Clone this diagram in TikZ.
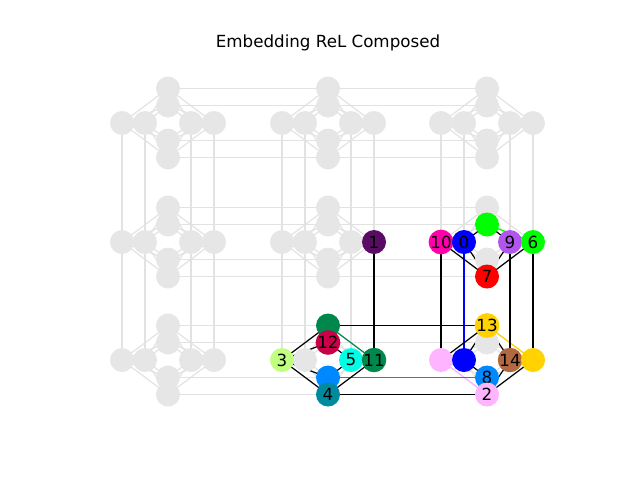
\documentclass[tikz,border=0pt]{standalone}
\usepackage{fontspec}
\setmainfont{DejaVu Sans}
\definecolor{lg}{RGB}{230,230,230}
\definecolor{le}{RGB}{226,226,226}
\definecolor{cA}{RGB}{0,0,255}      % 0
\definecolor{cB}{RGB}{90,12,100}    % 1
\definecolor{cC}{RGB}{255,180,255}  % 2
\definecolor{cD}{RGB}{192,255,128}  % 3
\definecolor{cE}{RGB}{0,138,158}    % 4
\definecolor{cF}{RGB}{0,255,228}    % 5
\definecolor{cG}{RGB}{0,255,0}      % 6
\definecolor{cH}{RGB}{255,0,0}      % 7
\definecolor{cI}{RGB}{0,136,255}    % 8
\definecolor{cJ}{RGB}{176,86,236}   % 9
\definecolor{cK}{RGB}{255,0,170}    % 10
\definecolor{cL}{RGB}{0,136,76}     % 11
\definecolor{cM}{RGB}{204,0,72}     % 12
\definecolor{cN}{RGB}{255,210,0}    % 13
\definecolor{cO}{RGB}{178,104,64}   % 14
\newcommand\markused[1]{\expandafter\def\csname usedv#1\endcsname{}}
\markused{R1-1-1}
\markused{L1-1-2}\markused{L2-1-2}\markused{T2-1-2}\markused{R2-1-2}\markused{R1-1-2}\markused{B1-1-2}
\markused{T1-2-1}\markused{T2-2-1}\markused{L1-2-1}\markused{R2-2-1}\markused{R1-2-1}\markused{B2-2-1}\markused{B1-2-1}
\markused{T1-2-2}\markused{L1-2-2}\markused{L2-2-2}\markused{R2-2-2}\markused{R1-2-2}\markused{B2-2-2}\markused{B1-2-2}
\begin{document}
\begin{tikzpicture}[x=1pt,y=-1pt,
  vtx/.style={circle,minimum size=24pt,inner sep=0pt,font=\fontsize{16.7}{16.7}\selectfont},
  gn/.style={vtx,fill=lg},
  ge/.style={draw=le,line width=1.2pt},
  be/.style={draw=black,line width=1.2pt},
  ce/.style={draw=#1,line width=1.2pt}]
\useasboundingbox (0,0) rectangle (640,480);
\node[font=\fontsize{16.7}{16.7}\selectfont] (title) at (328,43) {Embedding ReL Composed};
% coordinates
\foreach \r/\cy in {0/123,1/242,2/360}{
 \foreach \c/\cx in {0/168,1/328,2/487}{
  \coordinate (T1-\r-\c) at (\cx,\cy-34.5);
  \coordinate (T2-\r-\c) at (\cx,\cy-17.5);
  \coordinate (B2-\r-\c) at (\cx,\cy+17.5);
  \coordinate (B1-\r-\c) at (\cx,\cy+34.5);
  \coordinate (L1-\r-\c) at (\cx-46,\cy);
  \coordinate (L2-\r-\c) at (\cx-23,\cy);
  \coordinate (R2-\r-\c) at (\cx+23,\cy);
  \coordinate (R1-\r-\c) at (\cx+46,\cy);
 }}
% gray edges
\foreach \r in {0,1,2}{\foreach \c in {0,1,2}{\foreach \h in {T1,T2,B2,B1}{\foreach \v in {L1,L2,R2,R1}{
  \draw[ge] (\h-\r-\c) -- (\v-\r-\c);}}}}
\foreach \r in {0,1,2}{\foreach \c/\d in {0/1,1/2}{\foreach \h in {T1,T2,B2,B1}{
  \draw[ge] (\h-\r-\c) -- (\h-\r-\d);}}}
\foreach \r/\s in {0/1,1/2}{\foreach \c in {0,1,2}{\foreach \v in {L1,L2,R2,R1}{
  \draw[ge] (\v-\r-\c) -- (\v-\s-\c);}}}
% chain edges
\draw[ce=cA] (L2-1-2) -- (L2-2-2);
\draw[ce=cG] (R1-1-2) -- (T2-1-2);
\draw[ce=cN] (T1-2-2) -- (R1-2-2);
\draw[ce=cC] (B1-2-2) -- (L1-2-2);
\draw[ce=cI] (B2-2-1) -- (B2-2-2);
\draw[ce=cL] (R1-2-1) -- (T1-2-1);
% interaction edges
\draw[be] (R1-1-1) -- (R1-2-1);
\draw[be] (L1-1-2) -- (L1-2-2);
\draw[be] (R2-1-2) -- (R2-2-2);
\draw[be] (R1-1-2) -- (R1-2-2);
\draw[be] (T1-2-1) -- (T1-2-2);
\draw[be] (B1-2-1) -- (B1-2-2);
\draw[be] (L1-1-2) -- (B1-1-2);
\draw[be] (L2-1-2) -- (B1-1-2);
\draw[be] (R2-1-2) -- (B1-1-2);
\draw[be] (R1-1-2) -- (B1-1-2);
\draw[be] (L2-1-2) -- (T2-1-2);
\draw[be] (R2-1-2) -- (T2-1-2);
\draw[be] (L1-2-1) -- (T1-2-1);
\draw[be] (L1-2-1) -- (B1-2-1);
\draw[be] (R1-2-1) -- (B1-2-1);
\draw[be] (L1-2-1) -- (T2-2-1);
\draw[be] (L1-2-1) -- (B2-2-1);
\draw[be] (R2-2-1) -- (T2-2-1);
\draw[be] (R2-2-1) -- (B2-2-1);
\draw[be] (L1-2-2) -- (T1-2-2);
\draw[be] (R1-2-2) -- (B1-2-2);
\draw[be] (R2-2-2) -- (T1-2-2);
\draw[be] (R2-2-2) -- (B1-2-2);
\draw[be] (L2-2-2) -- (B2-2-2);
\draw[be] (L2-2-2) -- (T1-2-2);
% gray nodes
\foreach \r in {0,1,2}{\foreach \c in {0,1,2}{\foreach \k in {T1,T2,B2,B1,L1,L2,R2,R1}{
  \ifcsname usedv\k-\r-\c\endcsname\else\node[gn] (g-\k-\r-\c) at (\k-\r-\c) {};\fi}}}
% embedded nodes
\node[vtx,fill=cB] (n1) at (R1-1-1) {1};
\node[vtx,fill=cK] (n10) at (L1-1-2) {10};
\node[vtx,fill=cA] (n0) at (L2-1-2) {0};
\node[vtx,fill=cG] (n6b) at (T2-1-2) {};
\node[vtx,fill=cJ] (n9) at (R2-1-2) {9};
\node[vtx,fill=cG] (n6) at (R1-1-2) {6};
\node[vtx,fill=cH] (n7) at (B1-1-2) {7};
\node[vtx,fill=cL] (n11b) at (T1-2-1) {};
\node[vtx,fill=cM] (n12) at (T2-2-1) {12};
\node[vtx,fill=cD] (n3) at (L1-2-1) {3};
\node[vtx,fill=cF] (n5) at (R2-2-1) {5};
\node[vtx,fill=cL] (n11) at (R1-2-1) {11};
\node[vtx,fill=cI] (n8b) at (B2-2-1) {};
\node[vtx,fill=cE] (n4) at (B1-2-1) {4};
\node[vtx,fill=cN] (n13) at (T1-2-2) {13};
\node[vtx,fill=cC] (n2b) at (L1-2-2) {};
\node[vtx,fill=cA] (n0b) at (L2-2-2) {};
\node[vtx,fill=cO] (n14) at (R2-2-2) {14};
\node[vtx,fill=cN] (n13b) at (R1-2-2) {};
\node[vtx,fill=cI] (n8) at (B2-2-2) {8};
\node[vtx,fill=cC] (n2) at (B1-2-2) {2};
\end{tikzpicture}
\end{document}
